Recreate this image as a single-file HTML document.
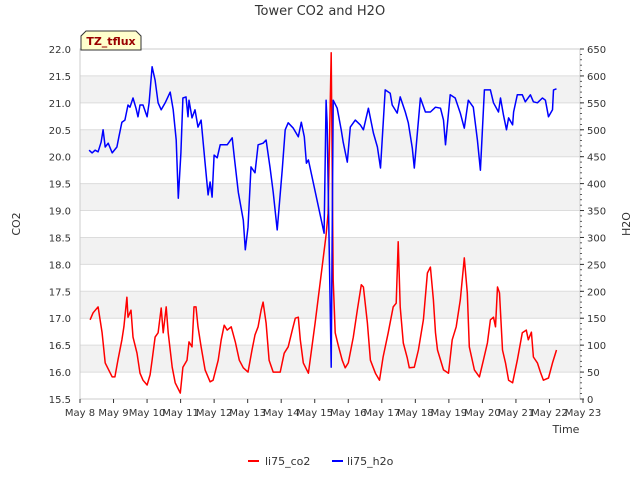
<!DOCTYPE html>
<html><head><meta charset="utf-8"><style>
body{margin:0;background:#fff;font-family:"Liberation Sans","DejaVu Sans",sans-serif}
svg text{font-family:"DejaVu Sans","Liberation Sans",sans-serif}
</style></head><body>
<svg id="c" width="640" height="480" viewBox="0 0 640 480"></svg>
<script>
const dayLabels=["May 8","May 9","May 10","May 11","May 12","May 13","May 14","May 15","May 16","May 17","May 18","May 19","May 20","May 21","May 22","May 23"];
const co2Ticks=[15.5,16.0,16.5,17.0,17.5,18.0,18.5,19.0,19.5,20.0,20.5,21.0,21.5,22.0];
const h2oTicks=[0,50,100,150,200,250,300,350,400,450,500,550,600,650];
const co2Days=[0.30,0.39,0.54,0.66,0.75,0.96,1.04,1.13,1.25,1.31,1.40,1.43,1.52,1.58,1.70,1.79,1.88,2.00,2.09,2.15,2.24,2.33,2.42,2.48,2.57,2.63,2.75,2.84,2.99,3.07,3.19,3.25,3.34,3.40,3.46,3.52,3.61,3.73,3.88,3.97,4.12,4.21,4.30,4.39,4.51,4.63,4.75,4.87,5.01,5.13,5.22,5.31,5.40,5.46,5.55,5.64,5.76,5.97,6.09,6.21,6.33,6.42,6.51,6.57,6.66,6.81,7.01,7.22,7.34,7.40,7.49,7.55,7.61,7.70,7.82,7.91,8.00,8.15,8.27,8.39,8.45,8.57,8.66,8.81,8.93,9.04,9.19,9.28,9.34,9.43,9.49,9.55,9.64,9.76,9.82,9.97,10.09,10.24,10.36,10.45,10.54,10.60,10.66,10.84,10.99,11.10,11.22,11.34,11.46,11.55,11.61,11.76,11.91,12.03,12.15,12.24,12.33,12.39,12.45,12.51,12.60,12.69,12.78,12.90,13.04,13.19,13.31,13.37,13.46,13.52,13.64,13.73,13.82,13.97,14.09,14.21];
const co2Values=[16.97,17.10,17.21,16.73,16.17,15.91,15.91,16.22,16.60,16.84,17.39,17.02,17.15,16.65,16.35,15.98,15.85,15.76,15.95,16.22,16.65,16.73,17.19,16.73,17.21,16.73,16.09,15.80,15.61,16.09,16.22,16.56,16.47,17.21,17.21,16.84,16.47,16.04,15.82,15.85,16.22,16.60,16.87,16.78,16.84,16.56,16.22,16.08,16.00,16.41,16.69,16.84,17.15,17.30,16.91,16.22,16.00,16.00,16.35,16.47,16.78,17.00,17.02,16.60,16.17,15.98,16.91,17.95,18.55,18.95,21.93,17.71,16.73,16.50,16.22,16.08,16.17,16.65,17.15,17.62,17.58,16.91,16.22,15.98,15.85,16.28,16.73,17.02,17.21,17.28,18.42,17.21,16.54,16.26,16.08,16.09,16.41,16.97,17.84,17.95,17.34,16.73,16.41,16.04,15.98,16.60,16.84,17.34,18.12,17.47,16.47,16.04,15.91,16.22,16.54,16.97,17.02,16.84,17.58,17.47,16.41,16.17,15.85,15.80,16.22,16.73,16.78,16.60,16.74,16.28,16.17,16.00,15.85,15.89,16.17,16.41];
const h2oDays=[0.27,0.36,0.45,0.54,0.63,0.69,0.75,0.84,0.96,1.10,1.16,1.25,1.34,1.43,1.49,1.58,1.67,1.73,1.79,1.88,2.00,2.06,2.15,2.24,2.33,2.42,2.54,2.69,2.78,2.87,2.93,3.01,3.07,3.16,3.22,3.25,3.34,3.43,3.52,3.61,3.73,3.82,3.88,3.94,4.00,4.09,4.18,4.39,4.54,4.60,4.72,4.87,4.93,5.01,5.10,5.22,5.31,5.46,5.55,5.67,5.76,5.88,6.03,6.12,6.21,6.36,6.51,6.60,6.69,6.75,6.81,7.28,7.34,7.37,7.49,7.55,7.67,7.79,7.85,7.97,8.06,8.21,8.36,8.45,8.60,8.75,8.87,8.96,9.10,9.25,9.31,9.46,9.55,9.70,9.79,9.91,9.97,10.15,10.30,10.45,10.60,10.75,10.84,10.90,11.04,11.19,11.34,11.46,11.58,11.73,11.85,11.94,12.06,12.24,12.33,12.48,12.54,12.63,12.72,12.78,12.90,12.93,13.04,13.19,13.28,13.43,13.52,13.64,13.79,13.88,13.97,14.09,14.12,14.21];
const h2oValues=[462,457,462,459,477,500,468,475,457,468,487,514,518,546,542,559,540,524,546,546,524,550,617,592,550,537,550,570,537,481,373,457,559,561,524,555,522,537,505,518,438,379,403,375,453,448,472,472,485,449,384,332,277,319,431,420,472,475,481,429,384,314,425,500,513,503,487,514,487,438,444,308,555,513,59,555,540,500,477,440,505,518,509,500,540,494,468,429,574,568,546,531,561,533,513,466,429,559,533,533,542,540,518,472,565,559,531,503,555,542,481,425,574,574,550,533,559,527,500,522,509,533,565,565,552,565,552,550,559,555,524,537,574,576];

const NS="http://www.w3.org/2000/svg";
const svg=document.getElementById('c');
const L=80,R=580,T=49,B=399;
const xS=d=>L+d*(503/15);
const yC=v=>T+(22-v)*(B-T)/6.5;
const yH=v=>B-v*(B-T)/650;
function mk(tag,attrs,parent){const e=document.createElementNS(NS,tag);for(const k in attrs)e.setAttribute(k,attrs[k]);(parent||svg).appendChild(e);return e;}

// bands & grid
for(let i=0;i<co2Ticks.length-1;i++){
  const v0=co2Ticks[i],v1=co2Ticks[i+1];
  if(i%2===1){const b=mk('rect',{x:L,y:yC(v1),width:R-L,height:yC(v0)-yC(v1),fill:'#f2f2f2'});
  
  }
}
co2Ticks.forEach(v=>{const g=mk('line',{x1:L,x2:R,y1:yC(v),y2:yC(v),stroke:'#dcdcdc','stroke-width':1});

});
const frame=mk('rect',{x:L,y:T,width:R-L,height:B-T,fill:'none',stroke:'#cccccc'});



// left ticks
co2Ticks.forEach(v=>{const t=mk('text',{x:71,y:yC(v)+4,'text-anchor':'end','font-size':10,fill:'#333'});t.textContent=v.toFixed(1);

});
// right ticks
h2oTicks.forEach(v=>{const t=mk('text',{x:587,y:yH(v)+4,'font-size':10,fill:'#333'});t.textContent=v;


mk('line',{x1:R,x2:R+4,y1:yH(v),y2:yH(v),stroke:'#333'});});
for(let v=0;v<=650;v+=10){mk('line',{x1:R,x2:R+2,y1:yH(v),y2:yH(v),stroke:'#333','stroke-width':0.8});}
// x ticks
dayLabels.forEach((s,i)=>{mk('line',{x1:xS(i),x2:xS(i),y1:B,y2:B+4,stroke:'#333'});
const t=mk('text',{x:xS(i),y:B+17,'text-anchor':'middle','font-size':10,fill:'#333'});t.textContent=s;

});

// series
function path(days,vals,yf){return days.map((d,i)=>(i?'L':'M')+xS(d).toFixed(1)+','+yf(vals[i]).toFixed(1)).join('');}
const pc=mk('path',{d:path(co2Days,co2Values,yC),fill:'none',stroke:'#ff0000','stroke-width':1.5,'stroke-linejoin':'round'});


const ph=mk('path',{d:path(h2oDays,h2oValues,yH),fill:'none',stroke:'#0000ff','stroke-width':1.5,'stroke-linejoin':'round'});


</script>
<svg width="640" height="480" style="position:absolute;left:0;top:0">
<text x="320" y="15" text-anchor="middle" font-size="13" fill="#333">Tower CO2 and H2O</text>
<text x="0" y="0" transform="translate(20,224) rotate(-90)" text-anchor="middle" font-size="11" fill="#333">CO2</text>
<text x="0" y="0" transform="translate(630,224) rotate(-90)" text-anchor="middle" font-size="11" fill="#333">H2O</text>
<text x="566" y="433" text-anchor="middle" font-size="11" fill="#333">Time</text>
<g>
<path d="M81,50 L81,36 L86,31 L136,31 L141,36 L141,50 Z" fill="#ffffcc" stroke="#333"/>
<text x="111" y="45" text-anchor="middle" font-size="11" font-weight="bold" fill="#990000">TZ_tflux</text>
</g>
<g>
<line x1="248" x2="259" y1="461" y2="461" stroke="#ff0000" stroke-width="2"/>
<text x="265" y="465" font-size="11" fill="#333">li75_co2</text>
<line x1="332" x2="343" y1="461" y2="461" stroke="#0000ff" stroke-width="2"/>
<text x="347" y="465" font-size="11" fill="#333">li75_h2o</text>
</g>
</svg>
</body></html>
